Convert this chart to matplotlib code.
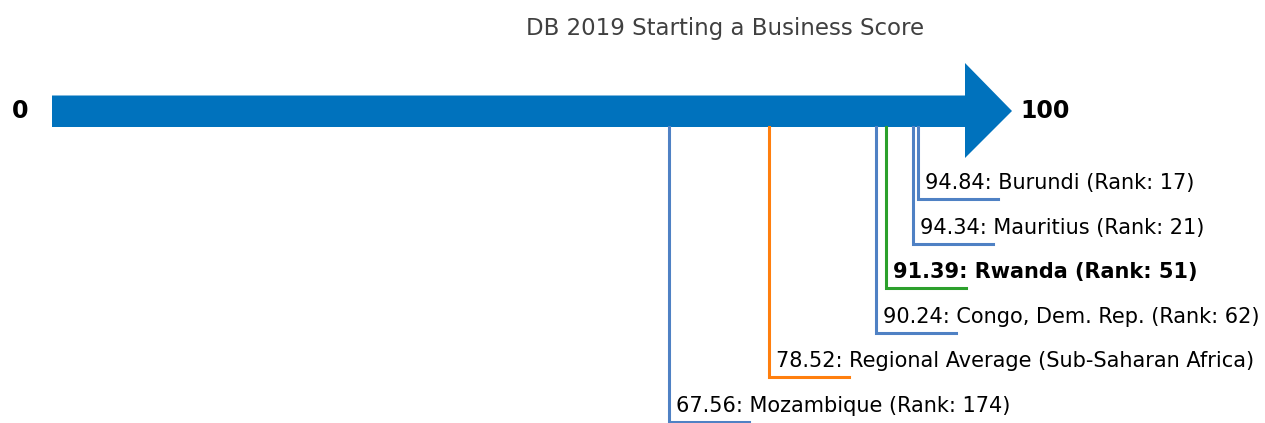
import matplotlib.pyplot as plt
import matplotlib.patches as mpatches

# data
names = ["Burundi (Rank: 17)", "Mauritius (Rank: 21)", "Rwanda (Rank: 51)",
         "Congo, Dem. Rep. (Rank: 62)", "Regional Average (Sub-Saharan Africa)",
         "Mozambique (Rank: 174)"]
scores = [94.84, 94.34, 91.39, 90.24, 78.52, 67.56]
colors = ["#4f81c4", "#4f81c4", "#2ca02c", "#4f81c4", "#ff7f0e", "#4f81c4"]
bold = [False, False, True, False, False, False]

W, H = 1265, 423
px_per = 9.13  # pixels per score point
x0 = 52

fig = plt.figure(figsize=(W / 100, H / 100), dpi=100)
ax = fig.add_axes([0, 0, 1, 1])
ax.set_xlim(-x0 / px_per, (W - x0) / px_per)
ax.set_ylim(H, 0)
ax.axis("off")

# arrow: body 0..100, head beyond
body_top, body_bot = 95.5, 127
head_top, head_bot = 63, 158
tip = 100 + 47 / px_per
arrow = mpatches.Polygon([(0, body_top), (100, body_top), (100, head_top), (tip, 111),
                          (100, head_bot), (100, body_bot), (0, body_bot)],
                         closed=True, color="#0072bd", lw=0)
ax.add_patch(arrow)

ax.text(-32 / px_per, 111, "0", fontsize=17, fontweight="bold", ha="center", va="center")
ax.text(tip + 8 / px_per, 111, "100", fontsize=17, fontweight="bold", ha="left", va="center")

ax.text((725 - x0) / px_per, 28, "DB 2019 Starting a Business Score",
        fontsize=16.5, color="#404040", ha="center", va="center")

# callouts
seg = 80 / px_per
for i, (n, s, c, b) in enumerate(zip(names, scores, colors, bold)):
    y = 199 + i * 44.6
    ax.plot([s, s, s + seg], [body_bot, y, y], color=c, lw=2.2, solid_joinstyle="miter")
    ax.text(s + 7 / px_per, y - 6, f"{s:.2f}: {n}", fontsize=15,
            fontweight="bold" if b else "normal", ha="left", va="bottom")

fig.savefig("out.png", dpi=100)
